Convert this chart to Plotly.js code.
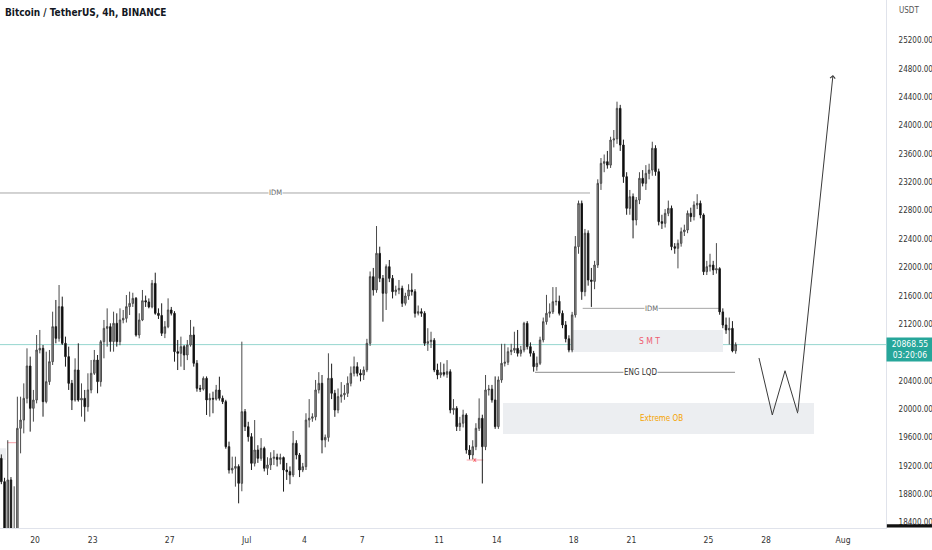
<!DOCTYPE html>
<html><head><meta charset="utf-8">
<script src="https://cdn.plot.ly/plotly-3.0.1.min.js"></script>
<style>html,body{margin:0;padding:0;background:#fff;}#chart{width:932px;height:550px;}</style>
</head><body><div id="chart"></div>
<script>
// ---- data (BTC/USDT 4h) ----
const firstBarCentre = Date.UTC(2022, 5, 18, 6, 0); // centre of the first 4h bar
const barHours = 4;
const open = [
19265,18936,18050,18960,18100,18200,19688,19805,20111,20567,
19970,20087,20793,20816,20064,20346,20628,21122,20957,21404,
20887,20699,20322,20087,20511,20087,20111,19993,20229,20464,
20651,20346,20910,21098,21122,20910,21169,20910,21216,21239,
21404,21450,21521,21004,21216,21488,21470,21400,21733,21310,
21280,21028,21120,21357,21310,20769,20746,20840,20722,20863,
21004,20605,20252,20240,20393,20088,20111,20100,20228,20111,
20064,19429,19100,19124,19150,18912,19923,19711,19570,19194,
19382,19265,19406,19124,19171,19265,19280,19250,19275,19100,
19077,19030,19477,19312,19100,19147,19805,19830,19850,20229,
20323,19524,19560,20393,20182,19946,20135,20160,20182,20323,
20464,20557,20464,20440,20511,20887,21827,21639,22156,21803,
21592,21968,21803,21615,21639,21662,21451,21554,21639,21615,
21310,21333,21310,20887,20910,20930,20511,20440,20474,20450,
20487,19947,19970,19712,19760,19876,19382,19312,19429,19688,
19829,19429,20229,20240,20088,19712,20370,20605,20620,20769,
20790,20816,20746,20793,21169,20840,20746,20558,20605,20934,
21192,21310,21330,21474,21480,21310,21146,20950,20793,21287,
22250,22860,21615,22440,21780,21760,21991,23143,23425,23449,
23400,23754,23770,24201,23684,23237,22790,22955,22626,22908,
23214,23143,23284,23330,23637,23308,22603,22579,22720,22790,
22250,22227,22297,22460,22485,22720,22673,22838,22861,22697,
21897,21968,21990,21921,21940,21330,21145,21075,21098,20780];
const high = [
19320,18990,19520,19000,18870,20134,20134,20322,20816,20699,
20229,21004,21075,20863,20769,20793,21333,21498,21709,21545,
20981,20840,20370,20675,20887,20322,20229,20464,20651,20793,
20722,20934,21216,21380,21169,21333,21310,21380,21357,21568,
21615,21600,21540,21310,21639,21560,21520,21780,21883,21380,
21451,21200,21521,21400,21340,20934,20981,20863,20934,21216,
21122,20650,20300,20420,20420,20181,20205,20300,20416,20150,
20090,19500,19288,19288,19180,20910,19960,19780,19620,19805,
19450,19550,19430,19280,19350,19380,19330,19330,19290,19200,
19150,19650,19520,19340,19200,19900,20100,19900,20370,20480,
20440,19600,20746,20600,20230,20250,20340,20300,20420,20560,
20700,20620,20520,20560,20950,21900,21950,22541,22250,21850,
22000,22062,21850,21700,21780,21700,21600,21720,21874,21650,
21420,21380,21340,21100,21050,20960,20600,20620,20600,20650,
20520,20100,20000,19850,19950,19900,19450,19520,19760,20110,
19880,20440,20300,20300,20420,20420,20880,20880,20830,20880,
21050,21075,20850,21190,21200,20900,20780,20700,20980,21250,
21570,21450,21680,21680,21560,21350,21200,21000,21330,22400,
22900,22900,22500,22480,21950,22050,23200,23500,23550,23600,
23800,23895,24295,24250,23760,23300,23050,23000,22950,23300,
23330,23400,23420,23730,23680,23350,22700,22780,22900,22830,
22300,22350,22520,22560,22760,22800,22890,22990,22900,22720,
22050,22150,22050,22300,21960,21380,21250,21250,21200,20900];
const low = [
18900,18000,17650,17900,17950,18100,19335,19617,20040,19641,
19782,20040,20745,19852,20040,20300,20581,20887,20910,20863,
20558,20229,19946,20064,20064,19852,19782,19923,20182,20440,
20182,20276,20675,20840,20769,20769,20840,20860,21169,21180,
21286,21400,20981,20957,21200,21400,21380,21380,21290,21230,
20990,20960,21100,21280,20628,20510,20558,20510,20650,20840,
20558,20205,20200,20220,19876,19852,19900,20080,20080,20030,
19400,19050,19050,18865,18630,18800,19650,19500,19100,19150,
19200,19230,19080,19030,19100,19170,19150,19180,18795,18960,
18900,19000,19250,19000,19070,19100,19700,19780,19800,20180,
19335,19420,19500,20100,19850,19900,20050,20090,20130,20280,
20420,20420,20350,20370,20480,20850,21560,21600,21750,21192,
21357,21750,21520,21560,21580,21400,21420,21500,21560,21250,
21280,21260,20850,20780,20820,20480,20380,20400,20420,20400,
19900,19880,19650,19650,19700,19330,19250,19250,19380,19650,
18910,19380,20150,20050,19680,19680,20330,20560,20580,20720,
20750,20700,20700,20760,20800,20700,20487,20500,20580,20900,
21150,21250,21300,21420,21280,21100,20900,20760,20760,21250,
22150,21500,21550,21700,21400,21650,21950,23050,23300,23350,
23360,23650,23700,23600,23150,22700,22700,22367,22550,22850,
23100,23050,23200,23250,23250,22550,22500,22520,22680,22200,
22150,21944,22250,22400,22440,22600,22620,22780,22650,21850,
21850,21900,21850,21870,21290,21100,21020,20870,20760,20740];
const close = [
18936,18050,18960,18100,18200,19688,19805,20111,20567,19970,
20087,20793,20816,20064,20346,20628,21122,20957,21404,20887,
20699,20322,20087,20511,20087,20111,19993,20229,20464,20651,
20346,20910,21098,21122,20910,21169,20910,21216,21239,21404,
21450,21521,21004,21216,21488,21470,21400,21733,21310,21280,
21028,21120,21357,21310,20769,20746,20840,20722,20863,21004,
20605,20252,20240,20393,20088,20111,20100,20228,20111,20064,
19429,19100,19124,19150,18912,19923,19711,19570,19194,19382,
19265,19406,19124,19171,19265,19280,19250,19275,19100,19077,
19030,19477,19312,19100,19147,19805,19830,19850,20229,20323,
19524,19560,20393,20182,19946,20135,20160,20182,20323,20464,
20557,20464,20440,20511,20887,21827,21639,22156,21803,21592,
21968,21803,21615,21639,21662,21451,21554,21639,21615,21310,
21333,21310,20887,20910,20930,20511,20440,20474,20450,20487,
19947,19970,19712,19760,19876,19382,19312,19429,19688,19829,
19429,20229,20240,20088,19712,20370,20605,20620,20769,20790,
20816,20746,20793,21169,20840,20746,20558,20605,20934,21192,
21310,21330,21474,21480,21310,21146,20950,20793,21287,22250,
22860,21615,22440,21780,21760,21991,23143,23425,23449,23400,
23754,23770,24201,23684,23237,22790,22955,22626,22908,23214,
23143,23284,23330,23637,23308,22603,22579,22720,22790,22250,
22227,22297,22460,22485,22720,22673,22838,22861,22697,21897,
21968,21990,21921,21940,21330,21145,21075,21098,20780,20868.55];

const lastPrice = 20868.55;
const countdown = '03:20:06';
const dateTickVals = ['2022-06-20','2022-06-23','2022-06-27','2022-07-01','2022-07-04','2022-07-07','2022-07-11','2022-07-14','2022-07-18','2022-07-21','2022-07-25','2022-07-28','2022-08-01'];
const dateTickText = ['20','23','27','Jul','4','7','11','14','18','21','25','28','Aug'];
const priceTicks = [18400,18800,19200,19600,20000,20400,21200,21600,22000,22400,22800,23200,23600,24000,24400,24800,25200];

// drawings (times / prices)
const idmHigh = {start:'2022-06-01 00:00', end:'2022-07-18 20:18', price:23007, labelAt:'2022-07-02 12:36'};
const idmLow  = {start:'2022-07-18 11:12', end:'2022-07-25 13:36', price:21380, labelAt:'2022-07-22 01:00'};
const smtZone = {start:'2022-07-17 21:12', end:'2022-07-25 18:12', top:21075, bottom:20764, labelAt:'2022-07-21 23:00', labelPrice:20920};
const engLqd  = {start:'2022-07-15 23:42', end:'2022-07-26 09:12', price:20478, labelAt:'2022-07-21 10:42'};
const extremeOB = {start:'2022-07-14 07:48', end:'2022-07-30 11:42', top:20045, bottom:19608, labelAt:'2022-07-22 14:06', labelPrice:19833};
const leftZone = {start:'2022-06-01 00:00', end:'2022-06-18 11:48', top:19406, bottom:19241};
const sweepLeft = {start:'2022-06-18 13:27', end:'2022-06-19 01:10', price:19485};
const sweepJul  = {start:'2022-07-12 10:30', end:'2022-07-13 07:12', price:19241, mark:'2022-07-12 20:54'};
const pathT = ['2022-07-27 15:06','2022-07-28 07:42','2022-07-28 23:36','2022-07-29 15:24'];
const pathP = [20680, 19876, 20500, 19900];
const arrowTip = {t:'2022-07-31 11:24', p:24671};

// ---- build ----
function fmt(ms){const d=new Date(ms);const p=n=>String(n).padStart(2,'0');
  return d.getUTCFullYear()+'-'+p(d.getUTCMonth()+1)+'-'+p(d.getUTCDate())+' '+p(d.getUTCHours())+':'+p(d.getUTCMinutes());}
const times = close.map((_, i) => fmt(firstBarCentre + i * barHours * 3600e3));

const F = '"Liberation Sans Narrow","DejaVu Sans Condensed","Arial Narrow",sans-serif';

const candles = {
  type:'candlestick', x:times, open:open, high:high, low:low, close:close,
  increasing:{line:{color:'#4a4a4a', width:1}, fillcolor:'#9a9a9a'},
  decreasing:{line:{color:'#1c1c1c', width:1}, fillcolor:'#000000'},
  whiskerwidth:0, hoverinfo:'skip', showlegend:false
};
const path = {
  type:'scatter', mode:'lines', x:pathT, y:pathP,
  line:{color:'#3a3a3a', width:1}, hoverinfo:'skip', showlegend:false
};

function hline(o, color){return {type:'line', xref:'x', yref:'y', x0:o.start, x1:o.end, y0:o.price, y1:o.price, line:{color:color, width:1}, layer:'below'};}
function zone(o, fill){return {type:'rect', xref:'x', yref:'y', x0:o.start, x1:o.end, y0:o.bottom, y1:o.top, fillcolor:fill, line:{width:0}, layer:'below'};}

const shapes = [
  zone(leftZone, '#eceef1'),
  zone(smtZone, '#eceef1'),
  zone(extremeOB, '#eceef1'),
  hline(idmHigh, '#a6a6a6'),
  hline(idmLow, '#a6a6a6'),
  hline(engLqd, '#8c8c8c'),
  hline(sweepLeft, '#f7a1a8'),
  hline(sweepJul, '#f7a1a8'),
  {type:'line', xref:'paper', yref:'y', x0:0, x1:1, y0:lastPrice, y1:lastPrice, line:{color:'#96d6cf', width:1}, layer:'below'},
  {type:'rect', xref:'paper', yref:'paper', x0:1.001, x1:1.052, y0:0.001, y1:0.007, fillcolor:'#111', line:{width:0}}
];

function label(x, y, text, color, size, bg){
  return {xref:'x', yref:'y', x:x, y:y, text:text, showarrow:false, font:{family:F, size:size, color:color}, bgcolor:bg||'rgba(0,0,0,0)', borderpad:0};
}
const annotations = [
  label(idmHigh.labelAt, idmHigh.price, 'IDM', '#666', 7.5, '#fff'),
  label(idmLow.labelAt, idmLow.price, 'IDM', '#666', 7.5, '#fff'),
  label(smtZone.labelAt, smtZone.labelPrice, 'S M T', '#ef5b6e', 8.5),
  label(engLqd.labelAt, engLqd.price, 'ENG LQD', '#333', 8, '#fff'),
  label(extremeOB.labelAt, extremeOB.labelPrice, 'Extreme OB', '#f5a300', 8),
  label(sweepJul.mark, sweepJul.price, 'x', '#f23645', 7),
  {xref:'x', yref:'y', axref:'x', ayref:'y', x:arrowTip.t, y:arrowTip.p, ax:pathT[pathT.length-1], ay:pathP[pathP.length-1],
   showarrow:true, arrowhead:4, arrowsize:1, arrowwidth:1, arrowcolor:'#3a3a3a', text:''},
  {xref:'paper', yref:'y', x:1, xanchor:'left', y:lastPrice, yanchor:'top', yshift:8,
   text:lastPrice.toFixed(2)+'<br>'+countdown, showarrow:false, align:'center',
   font:{family:F, size:8.5, color:'#ffffff'}, bgcolor:'#26a69a', width:44, borderpad:1},
  {xref:'paper', yref:'paper', x:1, xanchor:'left', xshift:11, y:1, yanchor:'middle', yshift:-10,
   text:'USDT', showarrow:false, font:{family:F, size:8, color:'#555'}}
];

const layout = {
  width:932, height:550, margin:{l:0, r:46, t:0, b:22},
  paper_bgcolor:'#ffffff', plot_bgcolor:'#ffffff', showlegend:false, boxgap:0.35,
  title:{text:'<b>Bitcoin / TetherUS, 4h, BINANCE</b>', x:5/932, xanchor:'left', xref:'container', y:1-12/550, yanchor:'middle', yref:'container',
         font:{family:F, size:10, color:'#131722'}},
  xaxis:{type:'date', range:['2022-06-18 04:20','2022-08-03 05:32'], rangeslider:{visible:false},
         tickvals:dateTickVals, ticktext:dateTickText, showgrid:false, zeroline:false,
         showline:true, linecolor:'#e0e3eb', linewidth:1, ticks:'outside', ticklen:4, tickcolor:'rgba(0,0,0,0)',
         tickfont:{family:F, size:8.5, color:'#333'}, fixedrange:true},
  yaxis:{side:'right', range:[18282, 25728.9], tickvals:priceTicks, tickformat:'.2f', showgrid:false, zeroline:false,
         showline:true, linecolor:'#e0e3eb', linewidth:1, ticks:'outside', ticklen:10, tickcolor:'rgba(0,0,0,0)',
         tickfont:{family:F, size:8, color:'#333'}, ticklabelshift:3, fixedrange:true},
  shapes:shapes, annotations:annotations
};

Plotly.newPlot('chart', [candles, path], layout, {staticPlot:true, displayModeBar:false});
</script>
</body></html>
